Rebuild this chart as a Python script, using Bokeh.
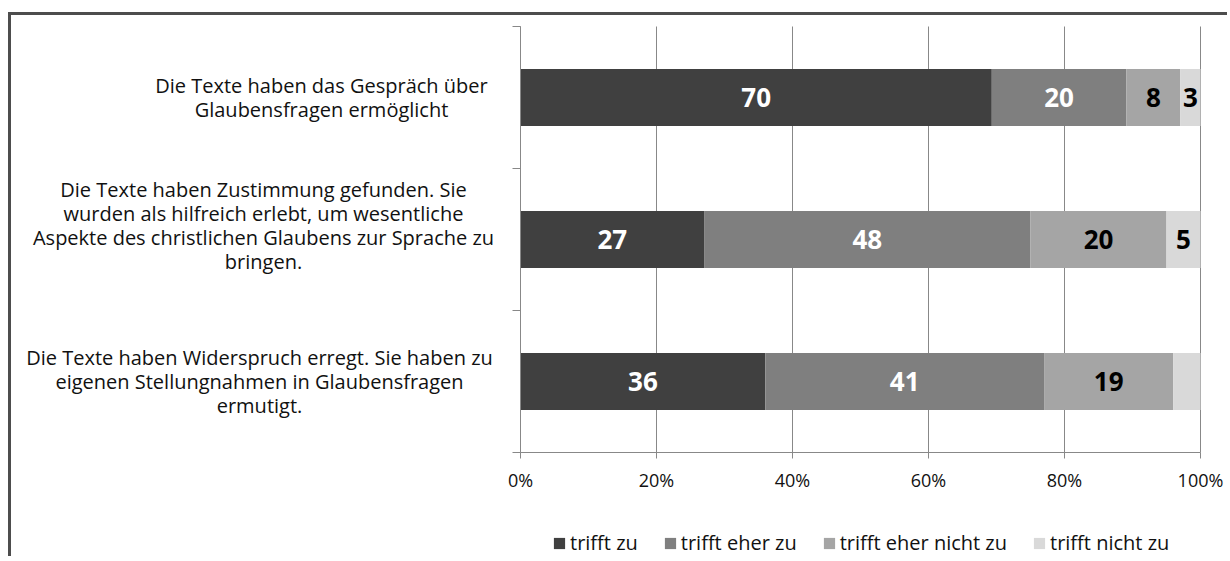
from bokeh.plotting import figure
from bokeh.models import Range1d, FixedTicker, Label, Legend, LegendItem, ColumnDataSource
from bokeh.core.properties import value
from bokeh.embed import file_html
from bokeh.resources import INLINE

# ---------------- data ----------------
statements = [
    ["Die Texte haben das Gespräch über", "Glaubensfragen ermöglicht"],
    ["Die Texte haben Zustimmung gefunden. Sie", "wurden als hilfreich erlebt, um wesentliche",
     "Aspekte des christlichen Glaubens zur Sprache zu", "bringen."],
    ["Die Texte haben Widerspruch erregt. Sie haben zu", "eigenen Stellungnahmen in Glaubensfragen",
     "ermutigt."],
]
series_names = ["trifft zu", "trifft eher zu", "trifft eher nicht zu", "trifft nicht zu"]
trifft_zu = [70, 27, 36]
trifft_eher_zu = [20, 48, 41]
trifft_eher_nicht_zu = [8, 20, 19]
trifft_nicht_zu = [3, 5, 4]
# value labels as printed in the chart (last segment of row 3 is unlabeled)
labels_trifft_zu = ["70", "27", "36"]
labels_trifft_eher_zu = ["20", "48", "41"]
labels_trifft_eher_nicht_zu = ["8", "20", "19"]
labels_trifft_nicht_zu = ["3", "5", ""]
x_ticks = [0, 0.2, 0.4, 0.6, 0.8, 1]
x_tick_labels = ["0%", "20%", "40%", "60%", "80%", "100%"]

# ---------------- style / layout ----------------
colors = ["#404040", "#7f7f7f", "#a5a5a5", "#d9d9d9"]
label_colors = ["white", "white", "black", "black"]
axis_color = "#888888"
FONT = "Open Sans"
W, H = 1219, 544
PLOT_L, PLOT_R, PLOT_T, PLOT_B = 509, 1189, 11, 437   # pixel box of the 0..1 x 0..3 data area

series = [trifft_zu, trifft_eher_zu, trifft_eher_nicht_zu, trifft_nicht_zu]
series_labels = [labels_trifft_zu, labels_trifft_eher_zu, labels_trifft_eher_nicht_zu, labels_trifft_nicht_zu]

n = len(statements)
ys = [n - 0.5 - i for i in range(n)]          # top to bottom
totals = [sum(s[i] for s in series) for i in range(n)]

xs = (PLOT_R - PLOT_L) / 1.0
ysc = (PLOT_B - PLOT_T) / n
x_range = Range1d(-PLOT_L / xs, 1 + (W - PLOT_R) / xs)
y_range = Range1d(-(H - PLOT_B) / ysc, n + PLOT_T / ysc)

p = figure(width=W, height=H, output_backend="svg", toolbar_location=None,
           x_range=x_range, y_range=y_range,
           min_border_left=0, min_border_right=0, min_border_top=0, min_border_bottom=0)
p.styles = {"border-top": "3px solid #4d4d4d", "border-left": "3px solid #4d4d4d",
            "margin-top": "12px", "margin-left": "8px"}
p.outline_line_color = None
p.background_fill_color = "white"
p.border_fill_color = "white"
p.xgrid.grid_line_color = None
p.ygrid.grid_line_color = None

# vertical gridlines (0..100 %), spanning the category area only
p.segment(x0=x_ticks, x1=x_ticks, y0=[0] * len(x_ticks), y1=[n] * len(x_ticks),
          line_color=axis_color, line_width=1)

items = []
cum = [0.0] * n
for k, (vals, name) in enumerate(zip(series, series_names)):
    left = [cum[i] for i in range(n)]
    right = [cum[i] + vals[i] / totals[i] for i in range(n)]
    src = ColumnDataSource(dict(y=ys, left=left, right=right))
    r = p.hbar(y="y", left="left", right="right", height=0.4, source=src,
               fill_color=colors[k], line_color=None)
    keep = [i for i in range(n) if series_labels[k][i]]
    tsrc = ColumnDataSource(dict(xc=[(left[i] + right[i]) / 2 for i in keep],
                                 y=[ys[i] for i in keep],
                                 lab=[series_labels[k][i] for i in keep]))
    p.text(x="xc", y="y", text="lab", source=tsrc, text_font=value(FONT),
           text_font_style="bold", text_font_size="26px", text_color=label_colors[k],
           text_align="center", text_baseline="middle")
    items.append(LegendItem(label=name, renderers=[r]))
    cum = right

# category labels (centered multi-line blocks to the left of the axis)
label_x_offsets = [-199, -257, -261]
block_y_offsets = [0, 14, 0]
line_step = 24.3
for i, lines in enumerate(statements):
    m = len(lines)
    for j, line in enumerate(lines):
        p.add_layout(Label(x=0, y=ys[i], x_offset=label_x_offsets[i],
                           y_offset=block_y_offsets[i] + ((m - 1) / 2 - j) * line_step,
                           text=line, text_font=FONT, text_font_size="20px", text_color="#111111",
                           text_align="center", text_baseline="middle"))

# axes, fixed at the data origin
xa = p.xaxis[0]
xa.fixed_location = 0
xa.bounds = (0, 1)
xa.ticker = FixedTicker(ticks=x_ticks)
xa.major_label_overrides = {t: l for t, l in zip(x_ticks, x_tick_labels)}
xa.major_label_text_font = FONT
xa.major_label_text_font_size = "18px"
xa.major_label_text_color = "#111111"
xa.major_label_standoff = 9
xa.axis_line_color = axis_color
xa.major_tick_line_color = axis_color
xa.major_tick_in = 0
xa.major_tick_out = 6
xa.minor_tick_line_color = None

ya = p.yaxis[0]
ya.fixed_location = 0
ya.bounds = (0, n)
ya.ticker = FixedTicker(ticks=list(range(n + 1)))
ya.major_label_overrides = {t: "" for t in range(n + 1)}
ya.major_label_standoff = 0
ya.axis_line_color = axis_color
ya.major_tick_line_color = axis_color
ya.major_tick_in = 0
ya.major_tick_out = 8
ya.minor_tick_line_color = None

legend = Legend(items=items, orientation="horizontal", location=(PLOT_L + 32, 3),
                label_text_font=FONT, label_text_font_size="20px", label_text_color="#111111",
                glyph_width=14, glyph_height=14, label_standoff=4, spacing=25,
                padding=2, margin=0, border_line_color=None, background_fill_alpha=0)
p.add_layout(legend, "center")

open("out.html", "w").write(file_html(p, INLINE))
